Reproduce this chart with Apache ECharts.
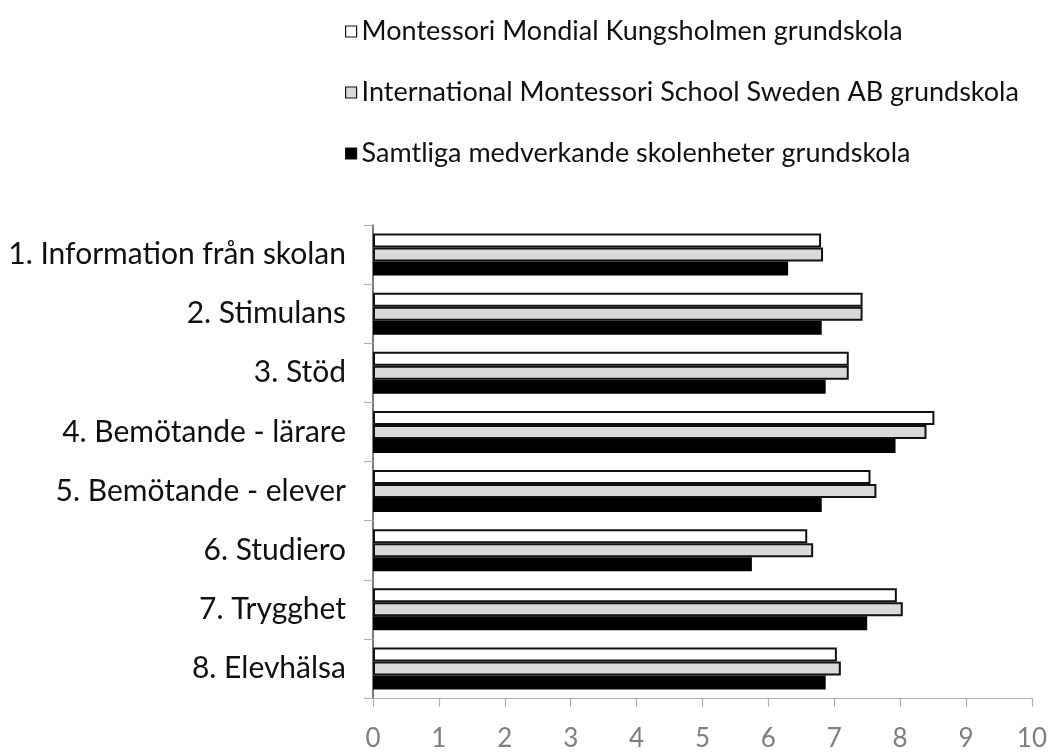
<!DOCTYPE html>
<html><head><meta charset="utf-8">
<script src="https://cdn.jsdelivr.net/npm/echarts@6/dist/echarts.min.js"></script>
<style>html,body{margin:0;padding:0;background:#fff}#c{width:1050px;height:752px}</style>
</head><body><div id="c"></div>
<script>
const categories = ["1. Information från skolan","2. Stimulans","3. Stöd","4. Bemötande - lärare","5. Bemötande - elever","6. Studiero","7. Trygghet","8. Elevhälsa"];
const seriesNames = ["Montessori Mondial Kungsholmen grundskola","International Montessori School Sweden AB grundskola","Samtliga medverkande skolenheter grundskola"];
const mondial = [6.80, 7.43, 7.22, 8.52, 7.55, 6.59, 7.95, 7.04];
const imss = [6.83, 7.43, 7.22, 8.40, 7.64, 6.68, 8.04, 7.10];
const samtliga = [6.30, 6.81, 6.87, 7.93, 6.81, 5.75, 7.50, 6.87];
const xTicks = [0,1,2,3,4,5,6,7,8,9,10];

const font = "Lato, 'Open Sans', sans-serif";
const chart = echarts.init(document.getElementById('c'), null, {renderer:'canvas'});
const styles = [
  {color:'#ffffff', borderColor:'#111', borderWidth:2},
  {color:'#d9d9d9', borderColor:'#111', borderWidth:2},
  {color:'#000000', borderColor:'#000', borderWidth:0}
];
const data = [mondial, imss, samtliga];
chart.setOption({
  animation:false,
  legend:{
    orient:'vertical', left:340, top:13, itemGap:34,
    itemWidth:11, itemHeight:11, icon:'rect',
    textStyle:{fontFamily:font, fontSize:27, color:'#111'},
    data: seriesNames.map((n,i)=>({name:n, itemStyle:{color:styles[i].color, borderColor:'#111', borderWidth:1.2}}))
  },
  grid:{left:373, right:16, top:225, bottom:50, containLabel:false},
  xAxis:{
    type:'value', min:xTicks[0], max:xTicks[xTicks.length-1], interval:1,
    axisLine:{show:true, lineStyle:{color:'#b0b0b0', width:1.2}},
    axisTick:{show:true, length:9, lineStyle:{color:'#b0b0b0', width:1.2}},
    axisLabel:{fontFamily:font, fontSize:26, color:'#7f7f7f', margin:28},
    splitLine:{show:false}
  },
  yAxis:{
    type:'category', data:categories, inverse:true,
    axisLine:{show:true, lineStyle:{color:'#505050', width:1.5}},
    axisTick:{show:true, length:9, lineStyle:{color:'#b0b0b0', width:1.2}},
    axisLabel:{fontFamily:font, fontSize:30, color:'#111', margin:27}
  },
  series: seriesNames.map((n,i)=>({
    name:n, type:'bar', data:data[i], barGap:'0%', barCategoryGap:'29%',
    itemStyle:styles[i]
  }))
});
</script></body></html>
